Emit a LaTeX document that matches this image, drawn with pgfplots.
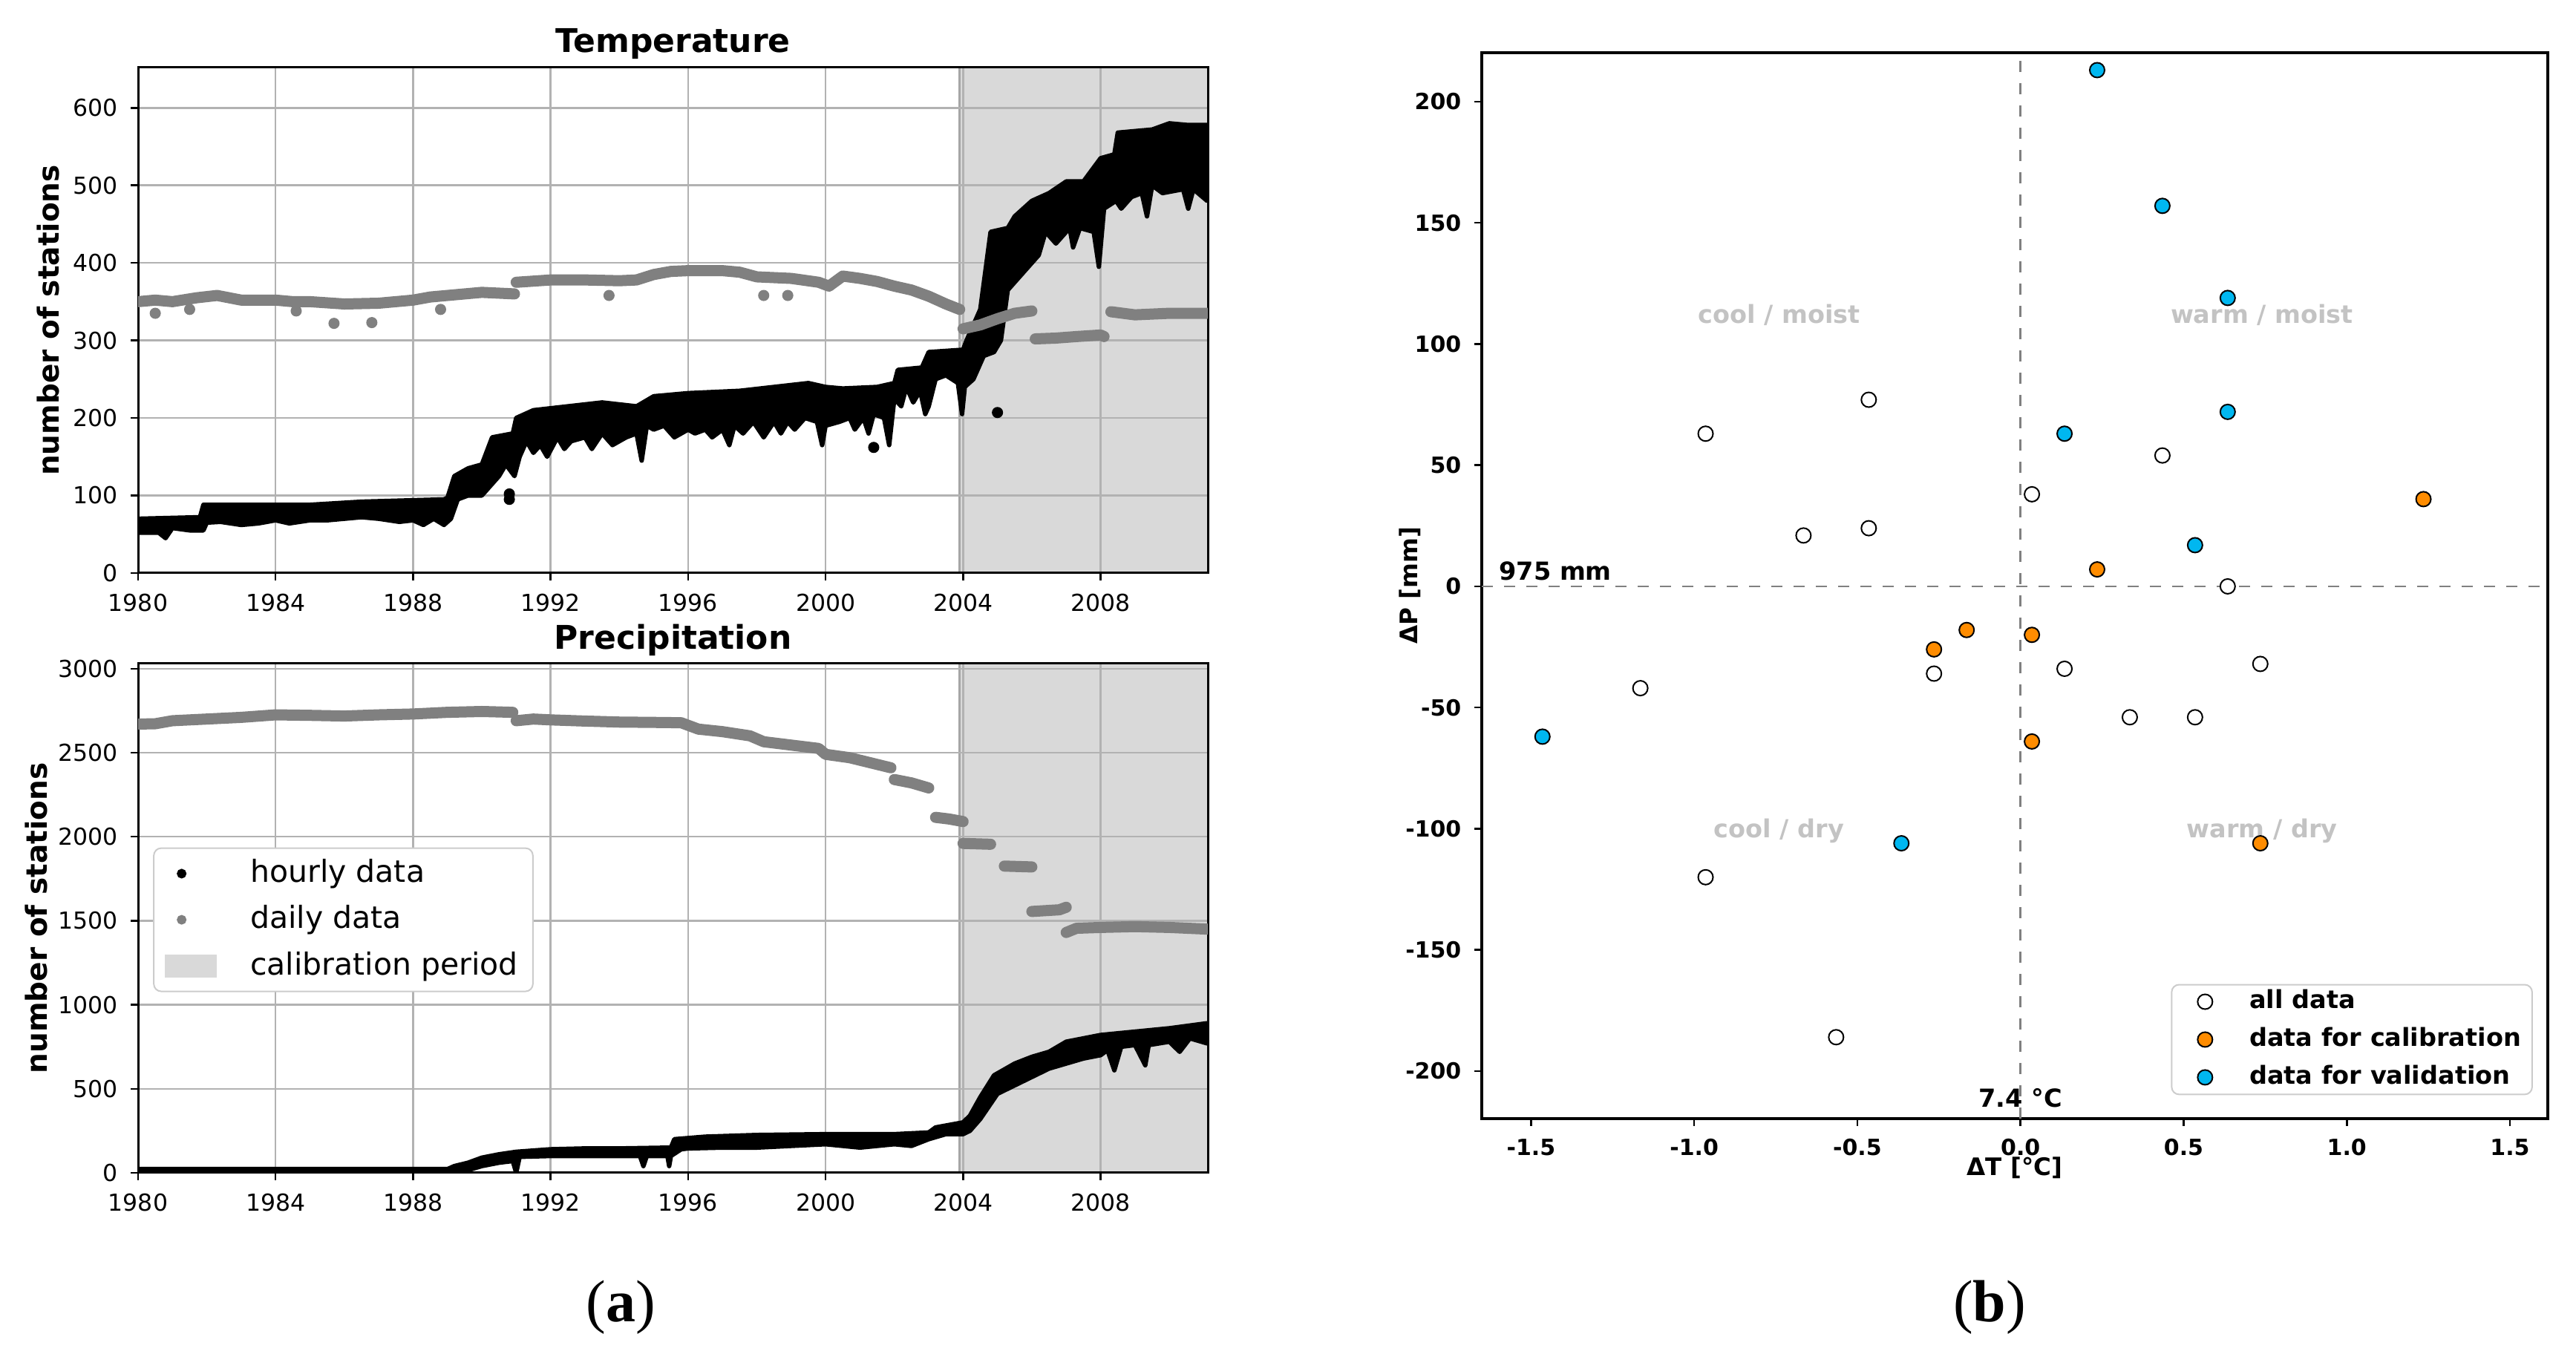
\documentclass[border=0pt]{standalone}
\usepackage{fontspec}
\setmainfont{DejaVu Sans}
\newfontfamily\capfont{Liberation Serif}
\usepackage{pgfplots}
\pgfplotsset{compat=1.18}
\definecolor{calgray}{RGB}{217,217,217}
\definecolor{dgray}{RGB}{128,128,128}
\definecolor{orC}{RGB}{255,140,0}
\definecolor{blC}{RGB}{0,183,240}
\definecolor{qgray}{RGB}{195,195,195}
\pgfplotsset{
 dotleg/.style={legend image code/.code={\draw[##1] plot coordinates {(4.5pt,0pt)}; \path[draw=none,fill=none] (0pt,-3pt) rectangle (14pt,3pt);}},
 scatleg/.style={legend image code/.code={\draw[##1] plot coordinates {(7pt,0pt)}; \path[draw=none,fill=none] (0pt,-2pt) rectangle (15pt,2pt);}},
 patchleg/.style={legend image code/.code={\path[fill=calgray, draw=none, sharp corners] (0pt,-3.1pt) rectangle (14pt,3.1pt);}},
 leftax/.style={
  scale only axis, width=288.2pt, xmin=1980, xmax=2011.12,
  set layers, axis line style={black, line width=0.6pt},
  xtick={1980,1984,...,2008},
  xticklabels={1980,1984,1988,1992,1996,2000,2004,2008},
  grid=major, major grid style={black!30, line width=0.5pt},
  tick align=outside, tick pos=left, major tick length=2pt,
  tick style={black, line width=0.5pt},
  /pgf/number format/assume math mode=true,
  /pgf/number format/1000 sep={},
  tick label style={font=\fontsize{6.3}{7.5}\selectfont},
  ylabel={\bfseries number of stations},
  ylabel style={font=\fontsize{7.8}{9}\selectfont, anchor=center},
  title style={font=\fontsize{8.8}{10}\selectfont\bfseries, at={(0.5,1)}, anchor=center, yshift=0.4pt},
 },
 daily/.style={dgray, line width=3pt, line cap=round, line join=round, forget plot},
 hourly/.style={fill=black, draw=black, line width=1.2pt, line join=round, forget plot},
}
\begin{document}
\begin{tikzpicture}
\path (0,0) rectangle (694pt,363.2pt);
% ---------------- Temperature ----------------
\begin{axis}[leftax, at={(37.2pt,345pt)}, anchor=north west, height=136.2pt,
  ymin=0, ymax=652, ytick={0,100,...,600}, title={Temperature},
  ylabel style={at={(axis description cs:-0.084,0.5)}}]
\addplot[fill=calgray, draw=none, on layer=axis background, forget plot]
  coordinates {(2003.9,0) (2003.9,652) (2011.12,652) (2011.12,0)};
\addplot[black!35, line width=0.6pt, on layer=axis background, forget plot]
  coordinates {(2003.9,0) (2003.9,652)};
% hourly band (upper envelope then lower envelope back)
\addplot[hourly] coordinates {
(1980.0,70) (1981.8,72) (1981.9,88) (1983,88) (1985,88) (1986.5,92) (1988.9,95)
(1989.0,97) (1989.2,125) (1989.6,135) (1990.0,140) (1990.3,175) (1990.9,180)
(1991.0,200) (1991.5,210) (1992.5,215) (1993.5,220) (1994.5,215) (1995.0,228)
(1996.0,232) (1997.5,235) (1998.5,240) (1999.5,245) (2000.0,240) (2000.5,238)
(2001.5,240) (2002.0,245) (2002.1,262) (2002.8,265) (2003.0,285) (2004.0,288)
(2004.1,300) (2004.5,340) (2004.8,440) (2005.3,445) (2005.5,460) (2006.0,480)
(2006.5,490) (2007.0,505) (2007.5,505) (2008.0,535) (2008.4,540) (2008.5,568)
(2009.5,572) (2010.0,580) (2010.5,578) (2011.1,578)
(2011.1,480) (2010.7,495) (2010.55,470) (2010.4,495) (2009.8,490) (2009.5,500)
(2009.35,460) (2009.2,490) (2008.9,485) (2008.6,470) (2008.45,480) (2008.1,470)
(2007.95,395) (2007.8,440) (2007.4,445) (2007.2,420) (2007.1,445) (2006.9,435)
(2006.7,425) (2006.4,440) (2006.2,410) (2006.0,400) (2005.6,380) (2005.3,365)
(2005.1,300) (2004.9,285) (2004.6,280) (2004.3,250) (2004.05,240) (2003.97,205)
(2003.85,245) (2003.5,255) (2003.2,250) (2003.0,215) (2002.9,205) (2002.75,235)
(2002.55,220) (2002.35,240) (2002.2,215) (2002.0,225) (2001.85,165) (2001.7,200)
(2001.4,205) (2001.25,180) (2001.1,200) (2000.85,185) (2000.7,200) (2000.4,195)
(2000.0,190) (1999.9,165) (1999.75,195) (1999.4,200) (1999.1,185) (1998.9,195)
(1998.7,180) (1998.5,195) (1998.2,175) (1997.9,195) (1997.6,180) (1997.35,190)
(1997.2,165) (1997.0,185) (1996.7,175) (1996.5,185) (1996.2,180) (1996.0,185)
(1995.6,175) (1995.3,190) (1995.0,185) (1994.8,190) (1994.65,145) (1994.5,180)
(1994.2,175) (1993.8,165) (1993.5,180) (1993.2,160) (1993.0,175) (1992.6,170)
(1992.4,160) (1992.2,175) (1991.9,150) (1991.7,165) (1991.5,155) (1991.3,170)
(1991.1,150) (1990.95,125) (1990.7,140) (1990.5,125) (1990.2,110) (1990.0,100)
(1989.6,100) (1989.3,95) (1989.1,70) (1988.9,62) (1988.6,70) (1988.3,62)
(1988.0,68) (1987.6,66) (1987.0,70) (1986.5,72) (1986.0,70) (1985.5,68)
(1985.0,68) (1984.4,64) (1984.0,68) (1983.5,64) (1983.0,62) (1982.4,66)
(1982.0,65) (1981.9,55) (1981.5,55) (1981.0,58) (1980.8,45) (1980.6,52) (1980.0,52)};
\addplot[only marks, mark=*, mark size=1.3pt, black, forget plot]
  coordinates {(1990.8,95) (1990.8,102) (2005.0,207) (2001.4,162)};
% daily
\addplot[daily] coordinates {(1980,350) (1980.5,352) (1981,350) (1981.7,355) (1982.3,358)
 (1983,352) (1984,352) (1984.5,350) (1985,350) (1986,347) (1987,348) (1987.5,350)
 (1988,352) (1988.5,356) (1989,358) (1989.5,360) (1990,362) (1990.95,360)};
\addplot[daily] coordinates {(1991,375) (1992,378) (1993,378) (1994,377) (1994.5,378)
 (1995,385) (1995.5,389) (1996,390) (1997,390) (1997.5,388) (1998,382) (1999,380)
 (1999.8,375) (2000.1,370) (2000.5,383) (2001,380) (2001.5,376) (2002,370)
 (2002.5,365) (2003,357) (2003.5,347) (2003.9,340)};
\addplot[daily] coordinates {(2004.0,315) (2004.5,320) (2005,328) (2005.5,335) (2006.0,338)};
\addplot[daily] coordinates {(2006.1,302) (2006.7,303) (2007.3,305) (2008.0,307) (2008.1,305)};
\addplot[daily] coordinates {(2008.3,337) (2009,333) (2010,335) (2011.1,335)};
\addplot[only marks, mark=*, mark size=1.3pt, dgray, forget plot]
  coordinates {(1980.5,335) (1981.5,340) (1984.6,338) (1985.7,322) (1986.8,323)
  (1988.8,340) (1993.7,358) (1998.2,358) (1998.9,358)};
\end{axis}
% ---------------- Precipitation ----------------
\begin{axis}[leftax, name=axA, at={(37.2pt,184.4pt)}, anchor=north west, height=137.2pt,
  ymin=0, ymax=3030, ytick={0,500,...,3000}, title={Precipitation},
  ylabel style={at={(axis description cs:-0.095,0.5)}},
  legend style={at={(0.014,0.639)}, anchor=north west, draw=black!20, fill=white,
    rounded corners=2pt, font=\fontsize{8.2}{8.6}\selectfont, row sep=2.7pt,
    inner xsep=3pt, inner ysep=2pt, nodes={inner sep=1pt},
    /tikz/every odd column/.append style={column sep=8pt}},
  legend cell align=left]
\addlegendimage{only marks, mark=*, mark size=1.1pt, black, dotleg}
\addlegendentry{hourly data}
\addlegendimage{only marks, mark=*, mark size=1.1pt, dgray, dotleg}
\addlegendentry{daily data}
\addlegendimage{patchleg}
\addlegendentry{calibration period}
\addplot[fill=calgray, draw=none, on layer=axis background, forget plot]
  coordinates {(2003.9,0) (2003.9,3030) (2011.12,3030) (2011.12,0)};
\addplot[black!35, line width=0.6pt, on layer=axis background, forget plot]
  coordinates {(2003.9,0) (2003.9,3030)};
\addplot[hourly] coordinates {
(1980,22) (1989.0,22) (1989.2,40) (1989.6,60) (1990.0,90) (1990.5,110) (1991.0,125)
(1992,140) (1993,145) (1994,145) (1995.5,150) (1995.6,200) (1996.5,215) (1998,225)
(2000,230) (2002,230) (2003,240) (2003.2,270) (2004,300) (2004.2,340) (2004.5,450)
(2004.9,580) (2005.5,650) (2006,690) (2006.5,720) (2007,780) (2007.5,800) (2008,820)
(2009,840) (2010,860) (2011.1,890)
(2011.1,770) (2010.6,800) (2010.3,720) (2010,780) (2009.4,760) (2009.3,640)
(2009.0,760) (2008.6,750) (2008.4,610) (2008.2,730) (2008,700) (2007.5,680)
(2007,650) (2006.5,620) (2006,570) (2005.5,520) (2005,470) (2004.5,320)
(2004.2,250) (2004,230) (2003.5,230) (2003,200) (2002.5,160) (2002,170) (2001,150)
(2000,170) (1999,160) (1998,150) (1997,150) (1996,145) (1995.8,140) (1995.5,100)
(1995.45,40) (1995.4,100) (1994.8,100) (1994.7,40) (1994.6,100) (1993,100)
(1992,100) (1991.1,95) (1991.0,0) (1990.9,70) (1990.5,60) (1990,40) (1989.5,10)
(1989,0) (1980,0)};
\addplot[daily] coordinates {(1980,2670) (1980.5,2672) (1981,2690) (1982,2700) (1983,2710)
 (1984,2725) (1985,2722) (1986,2718) (1987,2725) (1988,2730) (1989,2740) (1990,2745)
 (1990.9,2740)};
\addplot[daily] coordinates {(1991.0,2690) (1991.5,2700) (1992,2695) (1993,2688)
 (1994,2682) (1995,2680) (1995.8,2678) (1996.3,2640) (1997,2625) (1997.8,2600)
 (1998.2,2565) (1999,2545) (1999.8,2525) (2000,2490) (2000.7,2470) (2001.3,2440)
 (2001.9,2410)};
\addplot[daily] coordinates {(2002.0,2340) (2002.5,2320) (2003.0,2290)};
\addplot[daily] coordinates {(2003.2,2115) (2003.6,2105) (2004.0,2090)};
\addplot[daily] coordinates {(2004.0,1960) (2004.8,1955)};
\addplot[daily] coordinates {(2005.2,1825) (2006.0,1820)};
\addplot[daily] coordinates {(2006.0,1555) (2006.8,1565) (2007.0,1580)};
\addplot[daily] coordinates {(2007.0,1430) (2007.3,1455) (2008,1460) (2009,1465)
 (2010,1460) (2011.1,1450)};
\end{axis}
% ---------------- Scatter ----------------
\begin{axis}[name=axB, scale only axis, at={(399.2pt,349pt)}, anchor=north west,
  width=287.2pt, height=287.2pt,
  xmin=-1.651, xmax=1.616, ymin=-219.6, ymax=220.2,
  axis line style={black, line width=0.8pt},
  tick align=outside, tick pos=left, major tick length=2pt,
  tick style={black, line width=0.5pt},
  xtick={-1.5,-1,-0.5,0,0.5,1,1.5},
  xticklabels={-1.5,-1.0,-0.5,0.0,0.5,1.0,1.5},
  ytick={-200,-150,-100,-50,0,50,100,150,200},
  yticklabels={-200,-150,-100,-50,0,50,100,150,200},
  tick label style={font=\fontsize{6}{7}\selectfont\bfseries},
  xlabel={\bfseries ΔT [°C]}, ylabel={\bfseries ΔP [mm]},
  label style={font=\fontsize{6.5}{7.5}\selectfont},
  xlabel style={at={(axis description cs:0.5,-0.0463)}, anchor=center},
  ylabel style={at={(axis description cs:-0.0675,0.5)}, anchor=center},
  legend style={at={(0.986,0.022)}, anchor=south east, draw=black!20, fill=white,
    rounded corners=2pt, font=\fontsize{6.7}{7}\selectfont\bfseries, row sep=1.6pt,
    inner xsep=2pt, inner ysep=0.3pt, nodes={inner sep=1pt},
    /tikz/every odd column/.append style={column sep=3pt}},
  scatleg,
  legend cell align=left]
\addplot[dgray, dashed, line width=0.5pt, forget plot] coordinates {(0,-219.6) (0,220.2)};
\addplot[dgray, dashed, line width=0.5pt, forget plot] coordinates {(-1.651,0) (1.616,0)};
\addplot[only marks, mark=*, mark size=2pt, mark options={fill=white, draw=black, line width=0.4pt}]
 coordinates {(-0.965,63) (-0.465,77) (-0.665,21) (-0.465,24) (0.035,38) (0.435,54)
 (0.635,0) (-1.165,-42) (-0.265,-36) (0.135,-34) (0.335,-54) (0.535,-54)
 (0.735,-32) (-0.965,-120) (-0.565,-186)};
\addlegendentry{all data}
\addplot[only marks, mark=*, mark size=2pt, mark options={fill=orC, draw=black, line width=0.4pt}]
 coordinates {(0.235,7) (1.235,36) (-0.265,-26) (-0.165,-18) (0.035,-20)
 (0.035,-64) (0.735,-106)};
\addlegendentry{data for calibration}
\addplot[only marks, mark=*, mark size=2pt, mark options={fill=blC, draw=black, line width=0.4pt}]
 coordinates {(0.235,213) (0.435,157) (0.635,119) (0.635,72) (0.135,63)
 (0.535,17) (-1.465,-62) (-0.365,-106)};
\addlegendentry{data for validation}
\node[font=\fontsize{6.7}{8}\selectfont\bfseries, text=qgray] at (axis cs:-0.74,112) {cool / moist};
\node[font=\fontsize{6.7}{8}\selectfont\bfseries, text=qgray] at (axis cs:0.74,112) {warm / moist};
\node[font=\fontsize{6.7}{8}\selectfont\bfseries, text=qgray] at (axis cs:-0.74,-101) {cool / dry};
\node[font=\fontsize{6.7}{8}\selectfont\bfseries, text=qgray] at (axis cs:0.74,-101) {warm / dry};
\node[font=\fontsize{6.7}{8}\selectfont\bfseries, anchor=base west, inner sep=0pt] at (axis cs:-1.60,2.5) {975 mm};
\node[font=\fontsize{6.7}{8}\selectfont\bfseries, anchor=base, inner sep=0pt] at (axis cs:0,-215) {7.4 °C};
\end{axis}
\node[font=\capfont\fontsize{16}{18}\selectfont, anchor=base, inner sep=0pt]
  at ([xshift=-14pt, yshift=-40.2pt]axA.south) {(\textbf{a})};
\node[font=\capfont\fontsize{16}{18}\selectfont, anchor=base, inner sep=0pt]
  at ([xshift=-6.8pt, yshift=-54.8pt]axB.south) {(\textbf{b})};
\end{tikzpicture}
\end{document}
